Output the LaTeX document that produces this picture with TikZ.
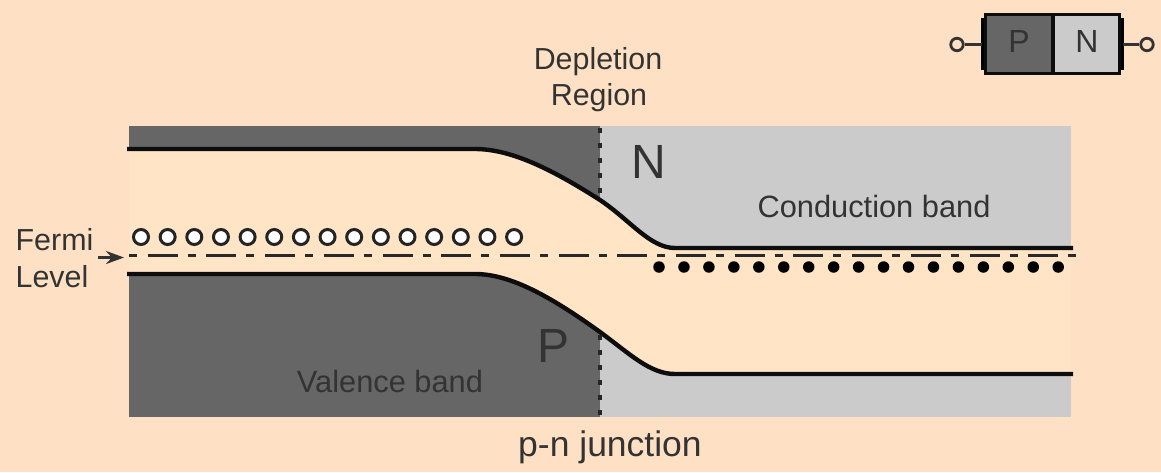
\documentclass[tikz,border=0pt]{standalone}
\usepackage{fontspec}
\setmainfont{Liberation Sans}
\usetikzlibrary{arrows.meta}
\definecolor{bg}{HTML}{FEE1C4}
\definecolor{band}{HTML}{FFE4C6}
\definecolor{darkp}{HTML}{666666}
\definecolor{lightn}{HTML}{CBCBCB}
\definecolor{ink}{HTML}{333333}
\tikzset{
  x=1pt,y=-1pt,
  lbl/.style={anchor=base,inner sep=0pt,text=ink,font=\fontsize{#1}{#1}\selectfont},
  bandedge/.style={line width=4.4pt,black!95,line cap=butt},
  fermi/.style={line width=3pt,color=ink!80!black,dash pattern=on 8pt off 10.7pt on 30pt off 10pt},
  hole/.style={circle,draw=ink!70!black,fill=white,line width=3pt,minimum size=15pt,inner sep=0pt},
  electron/.style={circle,fill=black,minimum size=11.5pt,inner sep=0pt},
  lead/.style={line width=3pt,color=ink},
  term/.style={circle,draw=ink,fill=bg,line width=2.8pt,minimum size=12.5pt,inner sep=0pt},
}
\begin{document}
\begin{tikzpicture}
\fill[bg] (0,0) rectangle (1161,472);
\useasboundingbox (0,0) rectangle (1161,472);
% band regions
\fill[darkp] (129,126) rectangle (600,417);
\fill[lightn] (600,126) rectangle (1071,417);
\fill[band] (129,149) -- (475,149) .. controls (510,149) and (550,168) .. (600,200)
  .. controls (630,220) and (650,247) .. (675,247) -- (1071,247) -- (1071,374) -- (675,374)
  .. controls (650,374) and (630,354) .. (600,332) .. controls (550,296) and (510,274) .. (475,274) -- (129,274) -- cycle;
% band edges
\coordinate (ctl) at (127,149);
\coordinate (ctr) at (1073,248);
\coordinate (vbl) at (127,274);
\coordinate (vbr) at (1073,374);
\draw[bandedge] (ctl) -- (475,149) .. controls (510,149) and (550,168) .. (600,200)
  .. controls (630,220) and (650,248) .. (675,248) -- (ctr);
\draw[bandedge] (vbl) -- (475,274) .. controls (510,274) and (550,296) .. (600,332)
  .. controls (630,354) and (650,374) .. (675,374) -- (vbr);
% depletion boundary
\coordinate (dt) at (600,128);
\coordinate (db) at (600,417);
\draw[line width=3.4pt,black!85,dash pattern=on 5pt off 10pt] (dt) -- (600,200);
\draw[line width=3.4pt,black!85,dash pattern=on 5pt off 10pt] (600,335) -- (db);
% Fermi level
\coordinate (fl) at (129,255);
\coordinate (fr) at (1076,255);
\draw[fermi] (fl) -- (fr);
% holes and electrons
\foreach \i in {0,...,14}{\node[hole] (h\i) at ({141+\i*26.65},237) {};}
\foreach \i in {0,...,16}{\node[electron] (e\i) at ({659+\i*24.95},267) {};}
% labels
\node[lbl=30.4] (dep) at (598,69) {Depletion};
\node[lbl=30.4] (reg) at (599,105) {Region};
\node[lbl=48] (nl) at (649,178) {N};
\node[lbl=48] (pl) at (553,362) {P};
\node[lbl=30.8] (cb) at (874,217) {Conduction band};
\node[lbl=30.8] (vb) at (390,392) {Valence band};
\node[lbl=35.5] (pn) at (610,456) {p-n junction};
\node[lbl=30.4] (fer) at (54.5,250) {Fermi};
\node[lbl=30.4] (lev) at (52,287) {Level};
\coordinate (as) at (98,257.5);
\coordinate (ae) at (124,257.5);
\draw[line width=3pt,ink,-{Stealth[length=18pt,width=13pt]}] (as) -- (ae);
% diode
\fill[black] (981,18) rectangle (988,70);
\fill[black] (1117,18) rectangle (1124,70);
\node[term] (tl) at (957,44.5) {};
\node[term] (tr) at (1147,44.5) {};
\coordinate (dl) at (982,44.5);
\coordinate (dr) at (1123,44.5);
\draw[lead] (tl) -- (dl);
\draw[lead] (tr) -- (dr);
\filldraw[fill=darkp,draw=black!95,line width=3.6pt] (985.5,14.5) rectangle (1053,73.5);
\filldraw[fill=lightn,draw=black!95,line width=3.6pt] (1053,14.5) rectangle (1119.5,73.5);
\node[lbl=32] (dp) at (1019,52) {P};
\node[lbl=32] (dn) at (1087,52) {N};
\end{tikzpicture}
\end{document}
